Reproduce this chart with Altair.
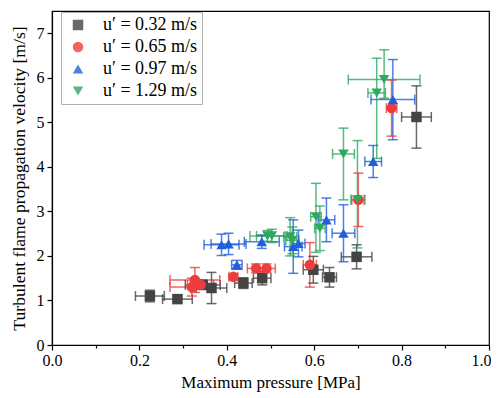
import altair as alt
import pandas as pd

series_names = ["u′ = 0.32 m/s", "u′ = 0.65 m/s", "u′ = 0.97 m/s", "u′ = 1.29 m/s"]
series_colors = ["#444444", "#f03c3c", "#1f5fd9", "#2fa860"]
series_shapes = ["square", "circle", "triangle-up", "triangle-down"]

# u' = 0.32 m/s
s1_x = [0.224, 0.287, 0.345, 0.365, 0.438, 0.481, 0.598, 0.635, 0.697, 0.834]
s1_y = [1.10, 1.03, 1.35, 1.28, 1.39, 1.50, 1.69, 1.52, 1.98, 5.12]
s1_xerr = [0.033, 0.034, 0.04, 0.035, 0.02, 0.02, 0.023, 0.016, 0.035, 0.034]
s1_ylo = [0.13, 0.07, 0.10, 0.35, 0.12, 0.15, 0.30, 0.22, 0.27, 0.70]
s1_yhi = [0.13, 0.07, 0.10, 0.35, 0.12, 0.15, 0.30, 0.22, 0.27, 0.70]

# u' = 0.65 m/s
s2_x = [0.327, 0.320, 0.340, 0.415, 0.467, 0.491, 0.590, 0.701, 0.777]
s2_y = [1.46, 1.30, 1.35, 1.53, 1.72, 1.72, 1.80, 3.26, 5.32]
s2_xerr = [0.057, 0.05, 0.03, 0.01, 0.02, 0.02, 0.015, 0.015, 0.012]
s2_ylo = [0.28, 0.20, 0.10, 0.06, 0.10, 0.10, 0.50, 0.60, 0.63]
s2_yhi = [0.28, 0.20, 0.10, 0.06, 0.10, 0.10, 0.50, 0.60, 0.63]

# u' = 0.97 m/s
s3_x = [0.388, 0.404, 0.423, 0.480, 0.552, 0.564, 0.628, 0.667, 0.735, 0.780]
s3_y = [2.25, 2.27, 1.80, 2.32, 2.21, 2.28, 2.81, 2.51, 4.12, 5.51]
s3_xerr = [0.04, 0.04, 0.012, 0.04, 0.02, 0.015, 0.019, 0.026, 0.019, 0.05]
s3_ylo = [0.24, 0.24, 0.10, 0.15, 0.60, 0.30, 0.49, 0.64, 0.36, 0.90]
s3_yhi = [0.24, 0.24, 0.10, 0.15, 0.60, 0.30, 0.49, 0.64, 0.36, 0.90]

# u' = 1.29 m/s
s4_x = [0.493, 0.503, 0.545, 0.550, 0.604, 0.613, 0.667, 0.699, 0.743, 0.760]
s4_y = [2.45, 2.45, 2.43, 2.35, 2.88, 2.62, 4.29, 3.26, 5.66, 5.96]
s4_xerr = [0.04, 0.035, 0.015, 0.015, 0.012, 0.012, 0.025, 0.015, 0.02, 0.082]
s4_ylo = [0.12, 0.15, 0.43, 0.30, 0.80, 0.50, 1.03, 1.08, 1.47, 0.42]
s4_yhi = [0.12, 0.15, 0.43, 0.30, 0.75, 0.50, 0.58, 1.33, 0.78, 0.67]

rows = []
for name, xs, ys, xe, ylo, yhi in [
    (series_names[0], s1_x, s1_y, s1_xerr, s1_ylo, s1_yhi),
    (series_names[1], s2_x, s2_y, s2_xerr, s2_ylo, s2_yhi),
    (series_names[2], s3_x, s3_y, s3_xerr, s3_ylo, s3_yhi),
    (series_names[3], s4_x, s4_y, s4_xerr, s4_ylo, s4_yhi),
]:
    for i in range(len(xs)):
        rows.append({
            "series": name, "x": xs[i], "y": ys[i],
            "xlo": xs[i] - xe[i], "xhi": xs[i] + xe[i],
            "ylo": ys[i] - ylo[i], "yhi": ys[i] + yhi[i],
        })
df = pd.DataFrame(rows)

FONT = "Liberation Serif"
x_ticks = [round(i * 0.1, 1) for i in range(11)]
y_ticks = [i * 0.5 for i in range(16)]

xscale = alt.Scale(domain=[0, 1.0], nice=False)
yscale = alt.Scale(domain=[0, 7.5], nice=False)

x_axis = alt.Axis(
    values=x_ticks, title="Maximum pressure [MPa]", grid=False,
    labelExpr="round(datum.value*10) % 2 == 0 ? format(datum.value, '.1f') : ''",
    tickSize={"condition": {"test": "round(datum.value*10) % 2 == 0", "value": 5}, "value": 3},
    labelAlign={"condition": {"test": "datum.value >= 0.99", "value": "right"}, "value": "center"},
    labelOffset={"condition": {"test": "datum.value >= 0.99", "value": 2}, "value": 0},
    labelPadding=2, titlePadding=6, labelFlush=False, titleFontSize=17,
)
y_axis = alt.Axis(
    values=y_ticks, title="Turbulent flame propagation velocity [m/s]", grid=False,
    labelExpr="datum.value % 1 == 0 && datum.value < 7.5 ? format(datum.value, 'd') : ''",
    tickSize={"condition": {"test": "datum.value % 1 == 0", "value": 5}, "value": 3},
    labelPadding=3, titlePadding=8, labelFlush=False, titleFontSize=17.6,
)

legend = alt.Legend(title=None, orient="none", legendX=9, legendY=1,
                    symbolSize=110, rowPadding=4, padding=4,
                    strokeColor="#b0b0b0", fillColor="white",
                    symbolStrokeWidth=0, symbolOffset=4, labelOffset=16)
color = alt.Color("series:N", scale=alt.Scale(domain=series_names, range=series_colors), legend=legend)
shape = alt.Shape("series:N", scale=alt.Scale(domain=series_names, range=series_shapes), legend=legend)

base = alt.Chart(df)
bar_op = 0.8

hbar = base.mark_rule(strokeWidth=1.5, opacity=bar_op).encode(
    x=alt.X("xlo:Q", scale=xscale, axis=x_axis), x2="xhi:Q",
    y=alt.Y("y:Q", scale=yscale, axis=y_axis), color=color)
hcap_lo = base.mark_tick(orient="vertical", size=10, thickness=1.5, opacity=bar_op).encode(
    x=alt.X("xlo:Q", scale=xscale), y=alt.Y("y:Q", scale=yscale), color=color)
hcap_hi = base.mark_tick(orient="vertical", size=10, thickness=1.5, opacity=bar_op).encode(
    x=alt.X("xhi:Q", scale=xscale), y=alt.Y("y:Q", scale=yscale), color=color)
vbar = base.mark_rule(strokeWidth=1.5, opacity=bar_op).encode(
    x=alt.X("x:Q", scale=xscale), y=alt.Y("ylo:Q", scale=yscale), y2="yhi:Q", color=color)
vcap_lo = base.mark_tick(orient="horizontal", size=10, thickness=1.5, opacity=bar_op).encode(
    x=alt.X("x:Q", scale=xscale), y=alt.Y("ylo:Q", scale=yscale), color=color)
vcap_hi = base.mark_tick(orient="horizontal", size=10, thickness=1.5, opacity=bar_op).encode(
    x=alt.X("x:Q", scale=xscale), y=alt.Y("yhi:Q", scale=yscale), color=color)
points = base.mark_point(filled=True, size=110, opacity=1).encode(
    x=alt.X("x:Q", scale=xscale), y=alt.Y("y:Q", scale=yscale), color=color, shape=shape)

chart = alt.layer(hbar, hcap_lo, hcap_hi, vbar, vcap_lo, vcap_hi, points).properties(
    width=437, height=334,
    autosize=alt.AutoSizeParams(type="none"),
    padding={"left": 44, "top": 3, "right": 2, "bottom": 52},
).configure(font=FONT).configure_view(stroke="black", strokeWidth=1.2).configure_axis(
    domainWidth=1.2, tickWidth=1.2, domainColor="black", tickColor="black",
    labelColor="black", titleColor="black", labelFont=FONT, titleFont=FONT,
    labelFontSize=16, titleFontWeight="normal",
).configure_legend(
    labelFont=FONT, labelFontSize=18, labelColor="black",
)

chart.save("out.html", embed_options={"renderer": "svg", "actions": False})
